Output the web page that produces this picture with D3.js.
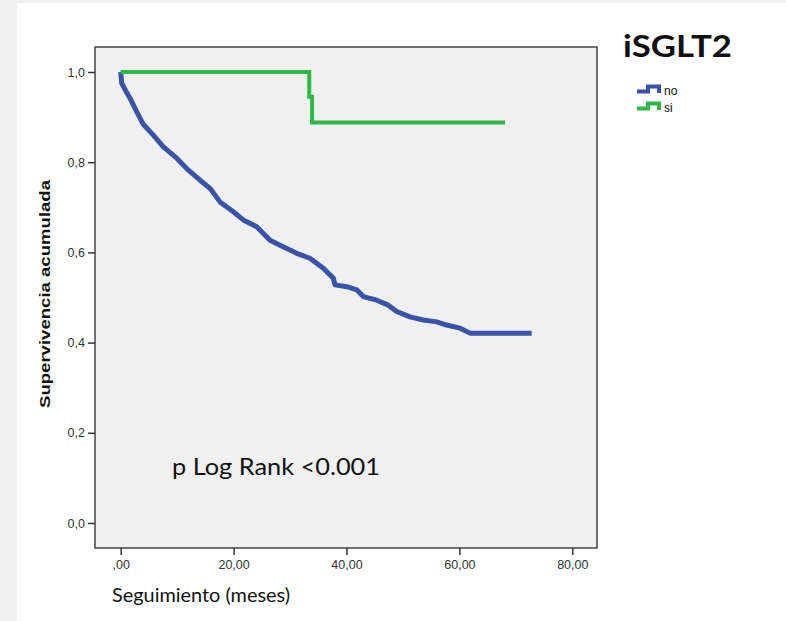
<!DOCTYPE html>
<html lang="es">
<head>
  <meta charset="UTF-8">
  <title>Supervivencia iSGLT2</title>
  <script src="https://d3js.org/d3.v7.min.js"></script>
  <style>
    body { margin: 0; background: #f0f0f0; }
    svg { display: block; }
  </style>
</head>
<body>
  <div id="grafico"></div>

  <script>
    // datos (meses, supervivencia)
    const mesesNo = [0, 0.18, 0.9, 1.65, 2.83, 4.0, 5.78, 7.55, 9.92, 11.69, 14.05, 15.82, 17.59, 19.95,
      21.72, 24.09, 26.45, 28.22, 31.18, 33.53, 35.89, 37.66, 37.96, 40.04, 41.81, 42.98, 45.35,
      47.4, 48.89, 51.25, 53.61, 55.98, 57.75, 60.11, 61.88, 72.8];
    const supNo = [1.0, 0.975, 0.958, 0.942, 0.912, 0.884, 0.86, 0.834, 0.809, 0.786, 0.76, 0.742, 0.712, 0.69,
      0.672, 0.657, 0.627, 0.616, 0.598, 0.587, 0.565, 0.543, 0.528, 0.524, 0.517, 0.502, 0.494,
      0.483, 0.469, 0.457, 0.45, 0.446, 0.439, 0.432, 0.421, 0.421];

    const mesesSi = [0, 33.4, 33.9, 68.1];
    const supSi = [1.0, 0.945, 0.888, 0.888];

    const ticksX = [0, 20, 40, 60, 80];
    const ticksY = [0, 0.2, 0.4, 0.6, 0.8, 1.0];
    const grupos = ["no", "si"];
    const colores = { no: "#3953a8", si: "#2fb846" };

    const ancho = 786, alto = 621;
    const marco = { izq: 95, der: 597, sup: 47, inf: 548 };

    const svg = d3.select("#grafico").append("svg")
      .attr("width", ancho).attr("height", alto);

    svg.append("rect").attr("width", ancho).attr("height", alto).attr("fill", "#f0f0f0");
    svg.append("rect").attr("x", 17).attr("y", 3)
      .attr("width", ancho - 17).attr("height", alto - 3).attr("fill", "#ffffff");

    const x = d3.scaleLinear().domain([0, 80]).range([120.7, 572.3]);
    const y = d3.scaleLinear().domain([0, 1]).range([523, 72]);

    // fondo del area de trazado
    svg.append("rect")
      .attr("x", marco.izq).attr("y", marco.sup)
      .attr("width", marco.der - marco.izq).attr("height", marco.inf - marco.sup)
      .attr("fill", "#f0f0f0").attr("stroke", "#444").attr("stroke-width", 1.5);

    const ejeX = d3.axisBottom(x).tickValues(ticksX).tickSize(7)
      .tickFormat(d => d === 0 ? ",00" : d + ",00");
    const ejeY = d3.axisLeft(y).tickValues(ticksY).tickSize(7)
      .tickFormat(d => d3.format(".1f")(d).replace(".", ","));

    const gx = svg.append("g").attr("transform", `translate(0,${marco.inf})`).call(ejeX);
    const gy = svg.append("g").attr("transform", `translate(${marco.izq},0)`).call(ejeY);

    [gx, gy].forEach(g => {
      g.select(".domain").remove();
      g.selectAll(".tick line").attr("stroke", "#333").attr("stroke-width", 1.5);
      g.selectAll(".tick text").attr("fill", "#333")
        .style("font-family", "'Liberation Sans', Arial, sans-serif").style("font-size", "12.5px");
    });
    gx.selectAll(".tick text").attr("dy", "0.9em");

    // curvas
    const linea = d3.line().x(d => x(d[0])).y(d => y(d[1]));

    svg.append("path")
      .datum(mesesNo.map((m, i) => [m, supNo[i]]))
      .attr("d", linea.curve(d3.curveLinear))
      .attr("fill", "none").attr("stroke", colores.no).attr("stroke-width", 5)
      .attr("stroke-linejoin", "round");

    svg.append("path")
      .datum(mesesSi.map((m, i) => [m, supSi[i]]))
      .attr("d", linea.curve(d3.curveStepAfter))
      .attr("fill", "none").attr("stroke", colores.si).attr("stroke-width", 4);

    // titulos
    svg.append("text")
      .attr("x", 112).attr("y", 602)
      .attr("textLength", 178).attr("lengthAdjust", "spacingAndGlyphs")
      .style("font-family", "Lato, sans-serif").style("font-size", "19px")
      .attr("fill", "#111")
      .text("Seguimiento (meses)");

    svg.append("text")
      .attr("transform", "translate(50,294) rotate(-90)")
      .attr("text-anchor", "middle")
      .attr("textLength", 228).attr("lengthAdjust", "spacingAndGlyphs")
      .style("font-family", "'Liberation Sans', Arial, sans-serif")
      .style("font-size", "15.5px").style("font-weight", "bold")
      .attr("fill", "#111")
      .text("Supervivencia acumulada");

    svg.append("text")
      .attr("x", 172).attr("y", 475)
      .attr("textLength", 208).attr("lengthAdjust", "spacingAndGlyphs")
      .style("font-family", "Lato, sans-serif").style("font-size", "23px")
      .attr("fill", "#111")
      .text("p Log Rank <0.001");

    // leyenda
    svg.append("text")
      .attr("x", 623).attr("y", 57)
      .attr("textLength", 109).attr("lengthAdjust", "spacingAndGlyphs")
      .style("font-family", "Lato, sans-serif").style("font-size", "30px").style("font-weight", "bold")
      .attr("fill", "#111")
      .text("iSGLT2");

    const leyenda = svg.append("g").selectAll("g").data(grupos).join("g")
      .attr("transform", (d, i) => `translate(637,${86 + i * 17})`);

    leyenda.append("path")
      .attr("d", "M0,5.5 H11 V0.5 H22 V7")
      .attr("fill", "none").attr("stroke", d => colores[d]).attr("stroke-width", 4);

    leyenda.append("text")
      .attr("x", 27).attr("y", 8.5)
      .style("font-family", "'Liberation Sans', Arial, sans-serif").style("font-size", "12px")
      .attr("fill", "#111")
      .text(d => d);
  </script>
</body>
</html>
